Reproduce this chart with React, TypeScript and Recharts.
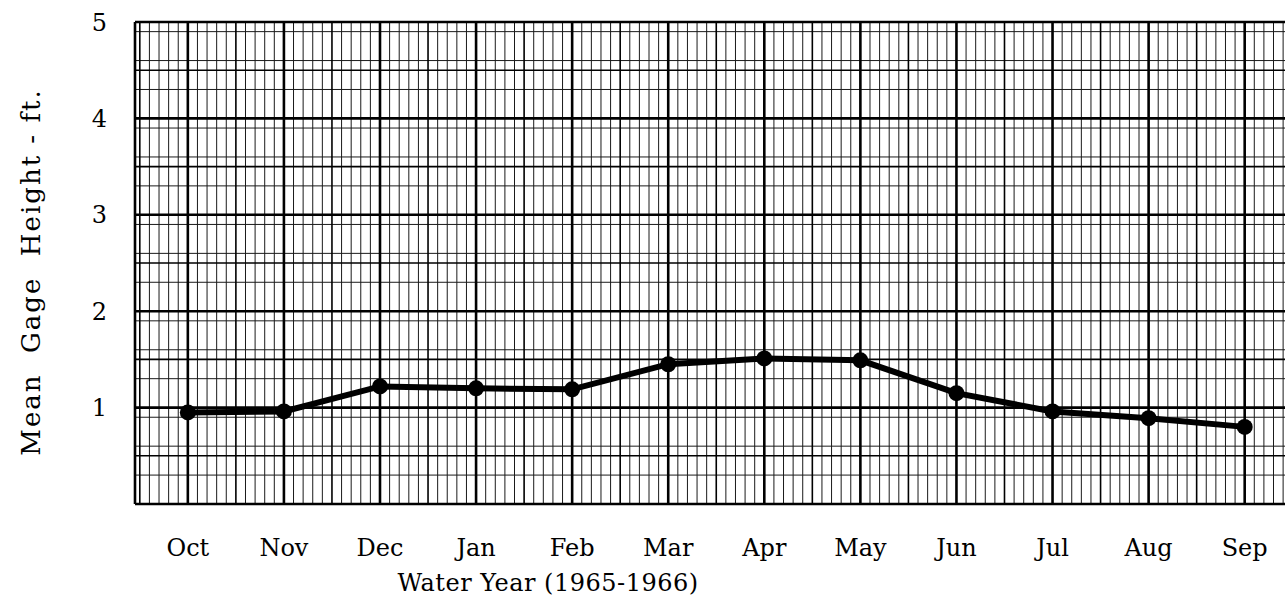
import { LineChart, Line, XAxis, YAxis, CartesianGrid } from 'recharts';

const months = ['Oct', 'Nov', 'Dec', 'Jan', 'Feb', 'Mar', 'Apr', 'May', 'Jun', 'Jul', 'Aug', 'Sep'];
const gageHeight = [0.95, 0.96, 1.22, 1.2, 1.19, 1.45, 1.51, 1.49, 1.15, 0.96, 0.89, 0.8];
const yTicks = [1, 2, 3, 4, 5];

const X_MIN = -0.55;
const X_MAX = 11.43;

// graph-paper lines (in data units)
const r = (v: number) => Math.round(v * 100) / 100;
const fineX: number[] = [];
for (let k = -5; k <= 114; k++) if (k % 5 !== 0) fineX.push(r(k / 10));
const halfX: number[] = [];
for (let k = -1; k <= 22; k += 2) halfX.push(r(k / 2));
const majorX: number[] = [X_MIN, ...months.map((_, i) => i)];
const fineY: number[] = [];
for (let k = 1; k < 50; k++) if (k % 5 !== 0) fineY.push(r(k / 10));
const halfY = [0.5, 1.5, 2.5, 3.5, 4.5];
const majorY = [0, 1, 2, 3, 4, 5];

const data = months.map((m, i) => ({ i, month: m, height: gageHeight[i] }));

const font = '"DejaVu Serif", serif';

export default function App() {
  return (
    <div style={{ position: 'absolute', left: 0, top: 0, width: 1285, height: 597, overflow: 'hidden', background: '#fff' }}>
      <LineChart width={1300} height={597} data={data} margin={{ top: 22, right: 14, bottom: 0, left: 95 }}>
        <CartesianGrid horizontalValues={fineY} verticalValues={fineX} stroke="#1a1a1a" strokeWidth={1} />
        <CartesianGrid horizontalValues={halfY} verticalValues={halfX} stroke="#000" strokeWidth={1.6} />
        <CartesianGrid horizontalValues={majorY} verticalValues={majorX} stroke="#000" strokeWidth={2.6} />
        <XAxis
          dataKey="i"
          type="number"
          domain={[X_MIN, X_MAX]}
          allowDataOverflow
          ticks={months.map((_, i) => i)}
          tickFormatter={(v: number) => months[v]}
          axisLine={false}
          tickLine={false}
          tickSize={0}
          tickMargin={35}
          height={93}
          tick={{ fontSize: 24, fill: '#000', fontFamily: font }}
        />
        <YAxis
          type="number"
          domain={[0, 5]}
          allowDataOverflow
          ticks={yTicks}
          axisLine={false}
          tickLine={false}
          tickSize={0}
          tickMargin={28}
          width={40}
          tick={{ fontSize: 24, fill: '#000', fontFamily: font }}
        />
        <Line
          type="linear"
          dataKey="height"
          stroke="#000"
          strokeWidth={6}
          dot={{ r: 8, fill: '#000', stroke: '#000', strokeWidth: 0 }}
          isAnimationActive={false}
        />
      </LineChart>
      <div style={{ position: 'absolute', left: 548, top: 583, transform: 'translate(-50%, -50%)', fontFamily: font, fontSize: 24, whiteSpace: 'nowrap', letterSpacing: 0.5 }}>
        Water Year (1965-1966)
      </div>
      <div style={{ position: 'absolute', left: 31, top: 272, transform: 'translate(-50%, -50%) rotate(-90deg)', fontFamily: font, fontSize: 26, whiteSpace: 'pre', letterSpacing: 2 }}>
        {'Mean  Gage  Height - ft.'}
      </div>
    </div>
  );
}
